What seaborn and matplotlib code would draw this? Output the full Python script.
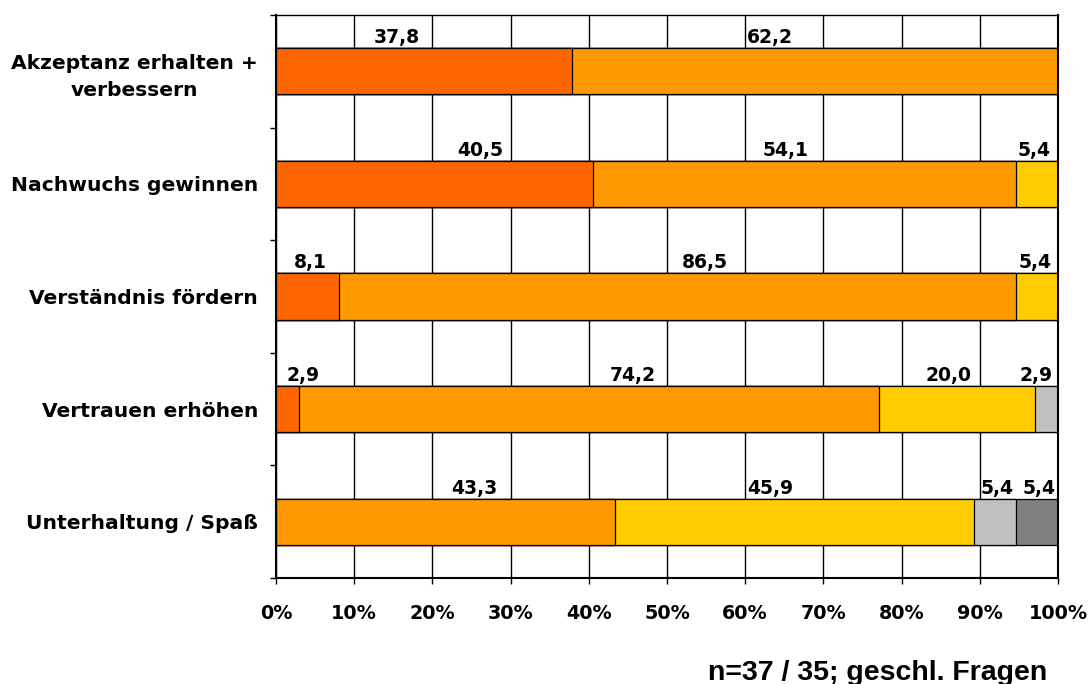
import numpy as np
import pandas as pd
import matplotlib
matplotlib.use("Agg")
import matplotlib.pyplot as plt
import seaborn as sns

# Categories (top to bottom) and the five answer shares per category, in percent
categories = [
    "Akzeptanz erhalten +\nverbessern",
    "Nachwuchs gewinnen",
    "Verständnis fördern",
    "Vertrauen erhöhen",
    "Unterhaltung / Spaß",
]
share_1 = [37.8, 40.5, 8.1, 2.9, 0.0]
share_2 = [62.2, 54.1, 86.5, 74.2, 43.3]
share_3 = [0.0, 5.4, 5.4, 20.0, 45.9]
share_4 = [0.0, 0.0, 0.0, 2.9, 5.4]
share_5 = [0.0, 0.0, 0.0, 0.0, 5.4]
x_ticks = [0, 10, 20, 30, 40, 50, 60, 70, 80, 90, 100]
x_tick_labels = [f"{t}%" for t in x_ticks]
footnote = "n=37 / 35; geschl. Fragen"

# Horizontal shift of each value label from its segment centre (percentage points)
label_shift = [
    [-3.5, -5.7, 0, 0, 0],
    [5.85, -2.35, -0.4, 0, 0],
    [0.4, 3.45, -0.2, 0, 0],
    [2.05, 5.6, -1.1, -1.35, 0],
    [0, 3.65, -3.05, 0.3, 0.3],
]

shares = [share_1, share_2, share_3, share_4, share_5]
colors = ["#FF6600", "#FF9900", "#FFCC00", "#C0C0C0", "#808080"]

df = pd.DataFrame({"Kategorie": categories})
cum = np.zeros(len(categories))
for k, s in enumerate(shares):
    cum = cum + np.array(s)
    df[f"cum{k}"] = cum

sns.set_style("white")
plt.rcParams["font.family"] = ["DejaVu Sans"]
plt.rcParams["text.color"] = "black"
plt.rcParams["axes.labelcolor"] = "black"
plt.rcParams["xtick.color"] = "black"
plt.rcParams["ytick.color"] = "black"

fig = plt.figure(figsize=(10.92, 6.84), dpi=100)
ax = fig.add_axes([276 / 1092, 1 - 578 / 684, (1058 - 276) / 1092, (578 - 15) / 684])

bar_h = 0.41
# stacked bars: draw the cumulative totals from the outermost segment inwards
for k in range(len(shares) - 1, -1, -1):
    sns.barplot(data=df, x=f"cum{k}", y="Kategorie", orient="h", color=colors[k],
                saturation=1, width=bar_h, edgecolor="black", linewidth=0.9,
                errorbar=None, ax=ax, zorder=3)

# value labels above each segment
for i in range(len(categories)):
    left = 0.0
    for k, s in enumerate(shares):
        v = s[i]
        if v > 0:
            xc = left + v / 2 + label_shift[i][k]
            ax.annotate(f"{v:.1f}".replace(".", ","), xy=(xc, i - bar_h / 2),
                        xytext=(0, 3.6), textcoords="offset points",
                        ha="center", va="baseline", fontsize=13.5,
                        fontweight="bold", color="black", zorder=5)
        left += v

ax.set_xlim(0, 100)
ax.set_ylim(len(categories) - 0.5, -0.5)
ax.set_xticks(x_ticks)
ax.set_xticklabels(x_tick_labels, fontsize=13.8, fontweight="bold", color="black")
ax.set_xlabel("")
ax.set_ylabel("")

ax.set_yticks(range(len(categories)))
ax.set_yticklabels(categories, fontsize=14.6, fontweight="bold", color="black")
for lab in ax.get_yticklabels():
    lab.set_multialignment("center")
    lab.set_linespacing(1.5)
ax.set_yticks(np.arange(-0.5, len(categories), 1.0), minor=True)

ax.tick_params(axis="y", which="major", length=0, pad=13)
ax.tick_params(axis="y", which="minor", length=4.5, width=1.0, color="black", direction="out", left=True)
ax.tick_params(axis="x", which="major", length=4.5, width=1.0, color="black", direction="out",
               bottom=True, pad=14)

ax.xaxis.grid(True, color="black", linewidth=1.0)
ax.yaxis.grid(False)
ax.set_axisbelow(True)

for side in ["left", "bottom", "right"]:
    ax.spines[side].set_visible(True)
    ax.spines[side].set_color("black")
    ax.spines[side].set_linewidth(1.5)
ax.spines["top"].set_visible(True)
ax.spines["top"].set_color("black")
ax.spines["top"].set_linewidth(1.0)
for sp in ax.spines.values():
    sp.set_zorder(6)

fig.text(1047 / 1092, 1 - 680 / 684, footnote, ha="right", va="baseline", color="black",
         fontsize=20.5, fontweight="bold", family=["Liberation Sans", "DejaVu Sans"])

fig.savefig("out.png", dpi=100, facecolor="white")
